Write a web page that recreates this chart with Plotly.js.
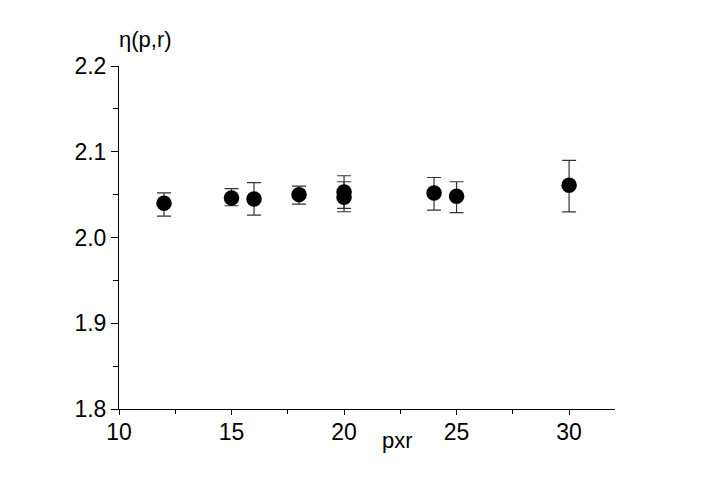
<!DOCTYPE html>
<html>
<head>
<meta charset="utf-8">
<script src="https://cdn.plot.ly/plotly-3.0.1.min.js"></script>
<style>
  html, body { margin: 0; padding: 0; background: #fff; }
  #chart { width: 709px; height: 490px; }
</style>
</head>
<body>
<div id="chart"></div>
<script>
// pxr values and eta(p,r)
const pxr = [12, 15, 16, 18, 20, 20, 24, 25, 30];
const eta = [2.040, 2.046, 2.045, 2.050, 2.053, 2.047, 2.052, 2.048, 2.061];
const errHaut = [0.012, 0.011, 0.019, 0.010, 0.019, 0.018, 0.018, 0.017, 0.029];
const errBas = [0.015, 0.009, 0.019, 0.011, 0.019, 0.017, 0.020, 0.019, 0.031];

const xTicks = [10, 15, 20, 25, 30];
const yTicks = [1.8, 1.9, 2.0, 2.1, 2.2];
const yLabels = ["1.8", "1.9", "2.0", "2.1", "2.2"];

const police = { family: "Liberation Sans, Arial, sans-serif", size: 23, color: "#000" };

Plotly.newPlot("chart", [{
  x: pxr,
  y: eta,
  mode: "markers",
  type: "scatter",
  marker: { size: 15.5, color: "#000" },
  error_y: {
    type: "data",
    symmetric: false,
    array: errHaut,
    arrayminus: errBas,
    color: "#333",
    thickness: 1.2,
    width: 7
  },
  hoverinfo: "skip"
}], {
  width: 709,
  height: 490,
  margin: { l: 119, r: 94, t: 66, b: 81 },
  paper_bgcolor: "#fff",
  plot_bgcolor: "#fff",
  showlegend: false,
  font: police,
  xaxis: {
    range: [10, 32.04],
    tickvals: xTicks,
    ticks: "outside",
    ticklen: 5,
    tickcolor: "#000",
    ticklabelstandoff: -3,
    showline: true,
    linecolor: "#000",
    linewidth: 1,
    showgrid: false,
    zeroline: false,
    tickfont: police,
    minor: { ticks: "outside", ticklen: 4, tick0: 10, dtick: 2.5, tickcolor: "#000", showgrid: false }
  },
  yaxis: {
    range: [1.8, 2.2],
    tickvals: yTicks,
    ticktext: yLabels,
    ticks: "outside",
    ticklen: 7,
    tickcolor: "#000",
    showline: true,
    linecolor: "#000",
    linewidth: 1,
    showgrid: false,
    zeroline: false,
    tickfont: police,
    minor: { ticks: "outside", ticklen: 5, tick0: 1.8, dtick: 0.05, tickcolor: "#000", showgrid: false }
  },
  annotations: [
    { text: "η(p,r)", xref: "paper", yref: "paper", x: -0.004, y: 1.078, xanchor: "left", yanchor: "middle",
      showarrow: false, font: { family: "Liberation Sans, Arial, sans-serif", size: 22, color: "#000" } },
    { text: "pxr", xref: "paper", yref: "paper", x: 0.562, y: -0.092, xanchor: "center", yanchor: "middle",
      showarrow: false, font: { family: "Liberation Sans, Arial, sans-serif", size: 22, color: "#000" } }
  ]
}, { displayModeBar: false, staticPlot: true });
</script>
</body>
</html>
